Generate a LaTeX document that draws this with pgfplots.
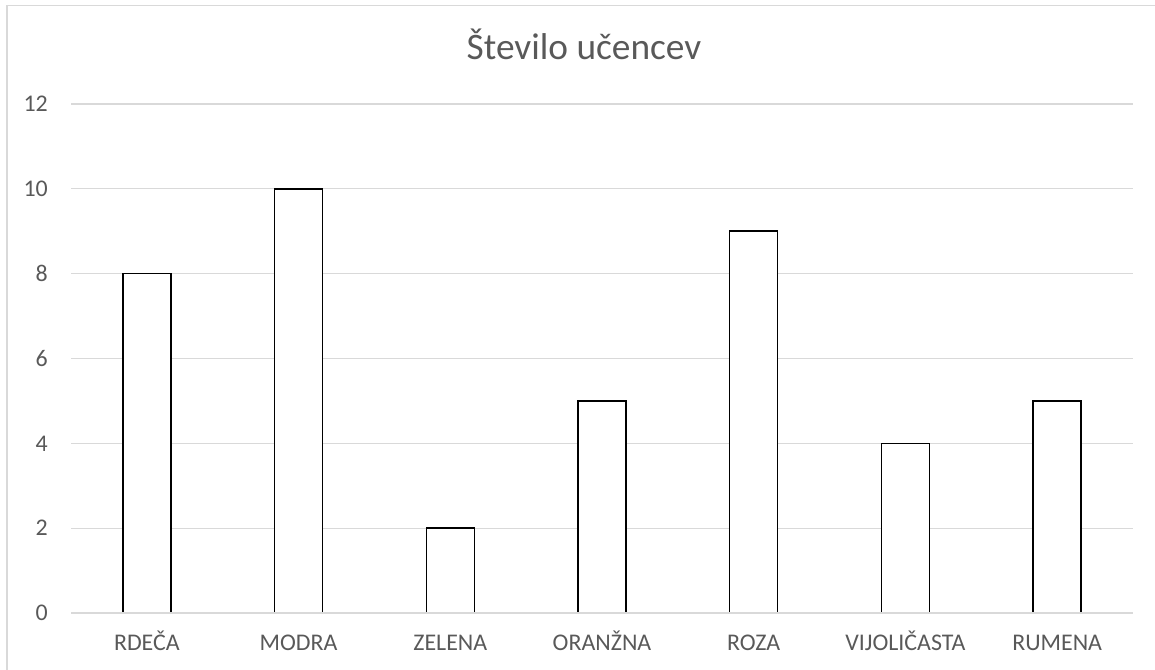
\documentclass[border=0pt]{standalone}
\usepackage{fontspec}
\setmainfont{Carlito}
\usepackage{pgfplots}
\pgfplotsset{compat=1.18}
\definecolor{txtgray}{HTML}{595959}
\definecolor{gridgray}{HTML}{D9D9D9}
\begin{document}
\begin{tikzpicture}[x=1bp,y=1bp]
\path[use as bounding box] (0,0) rectangle (1155,670);
\draw[gridgray, line width=1.5bp] (7,-2) -- (7,664.5) -- (1157,664.5);
\node[txtgray, anchor=base, font=\fontsize{37.5}{44}\selectfont] at (584,610) {Število učencev};
\begin{axis}[
  at={(71bp,57bp)}, anchor=south west,
  width=1062bp, height=509bp, scale only axis,
  ymin=0, ymax=12, ytick={0,2,...,12},
  xmin=-0.5, xmax=6.5, xtick=data,
  xticklabels={RDEČA,MODRA,ZELENA,ORANŽNA,ROZA,VIJOLIČASTA,RUMENA},
  axis line style={draw=none},
  tick style={draw=none},
  major tick length=0pt,
  ymajorgrids, grid style={gridgray, line width=1.3bp},
  ticklabel style={txtgray, font=\fontsize{24}{29}\selectfont, inner sep=0pt},
  /pgf/number format/assume math mode=true,
  xticklabel style={anchor=base, yshift=-38bp},
  yticklabel style={anchor=east, xshift=-23bp},
  ybar, bar width=48bp,
  clip=false,
]
\addplot[draw=black, fill=white, line width=1.5bp] coordinates {
(0,8) (1,10) (2,2) (3,5) (4,9) (5,4) (6,5)};
% horizontal axis line over the bar bottoms
\draw[gridgray, line width=1.5bp] (axis cs:-0.5,0) -- (axis cs:6.5,0);
\end{axis}
\end{tikzpicture}
\end{document}
